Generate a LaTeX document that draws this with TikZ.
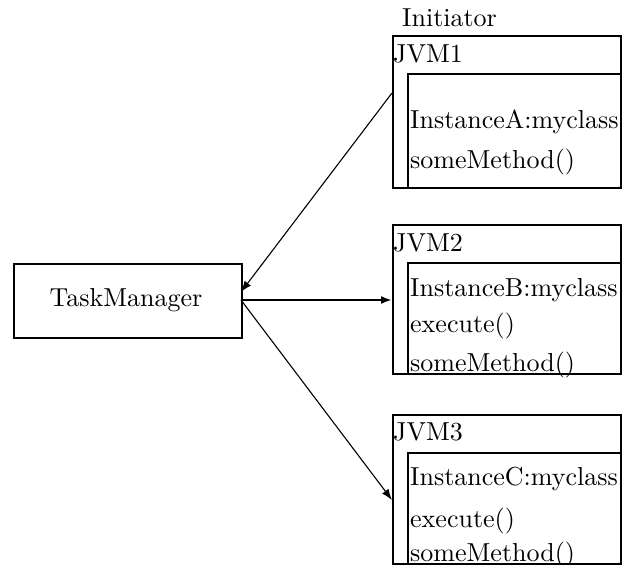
\documentclass[tikz,border=0pt]{standalone}
\usepackage{fontspec}
% use the 10pt design size of Latin Modern at every size
\setmainfont{lmroman10-regular}[Extension=.otf]
\usetikzlibrary{arrows.meta}
\begin{document}
\begin{tikzpicture}[x=1pt,y=-1pt,
  every node/.style={font=\fontsize{26}{31}\selectfont},
  box/.style={draw,line width=2.4pt,inner sep=0pt,anchor=north west},
  lbl/.style={inner sep=0pt,anchor=base west},
  conn/.style={line width=1.1pt,-{Latex[length=11pt,width=8pt]}},
  connthick/.style={line width=2.2pt,-{Latex[length=11pt,width=8pt]}}]
\useasboundingbox (0,0) rectangle (625,565);

% task manager
\node[box,minimum width=228pt,minimum height=74pt] (tm) at (13,263) {};
\node (tmlabel) at (126,300) {TaskManager};

% caption above the first JVM
\node[lbl] (initiator) at (402,26) {Initiator};

% JVM1
\node[box,minimum width=228pt,minimum height=152pt] (jvm1) at (392,35) {};
\node[box,minimum width=213pt,minimum height=114pt] (inst1) at (407,73) {};
\node[lbl] (jvm1label) at (393,62) {JVM1};
\node[lbl] (a1) at (410,128) {InstanceA:myclass};
\node[lbl] (a2) at (410,168) {someMethod()};

% JVM2
\node[box,minimum width=228pt,minimum height=149pt] (jvm2) at (392,224) {};
\node[box,minimum width=213pt,minimum height=111pt] (inst2) at (407,262) {};
\node[lbl] (jvm2label) at (393,251) {JVM2};
\node[lbl] (b1) at (410,296) {InstanceB:myclass};
\node[lbl] (b2) at (410,332) {execute()};
\node[lbl] (b3) at (410,371) {someMethod()};

% JVM3
\node[box,minimum width=228pt,minimum height=149pt] (jvm3) at (392,414) {};
\node[box,minimum width=213pt,minimum height=111pt] (inst3) at (407,452) {};
\node[lbl] (jvm3label) at (393,440) {JVM3};
\node[lbl] (c1) at (410,485) {InstanceC:myclass};
\node[lbl] (c2) at (410,527) {execute()};
\node[lbl] (c3) at (410,561) {someMethod()};

% connector end points
\coordinate (p1) at (392,93);
\coordinate (q1) at (241,292);
\coordinate (q2) at (241,300);
\coordinate (p2) at (392,300);
\coordinate (p3) at (392,500);

\draw[conn] (p1) -- (q1);
\draw[connthick] (q2) -- (p2);
\draw[conn] (q2) -- (p3);
\end{tikzpicture}
\end{document}
